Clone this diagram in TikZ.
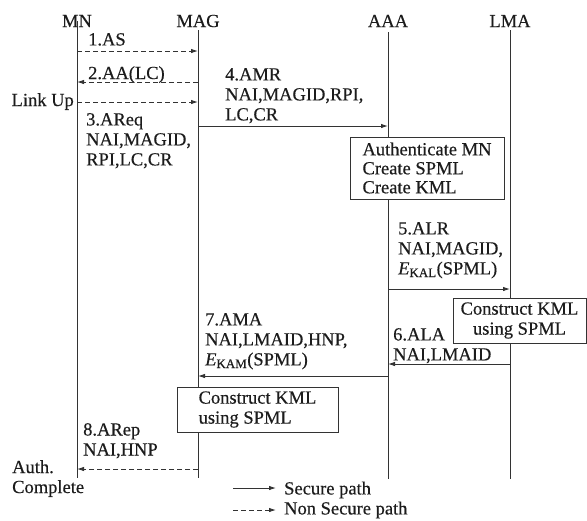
\documentclass[tikz,border=0pt]{standalone}
\usepackage{fontspec}
\setmainfont{Liberation Serif}[FakeBold=0.35]
\usetikzlibrary{arrows.meta,positioning}
\definecolor{ink}{HTML}{1C1C1C}
\definecolor{wire}{HTML}{333333}

\begin{document}
\begin{tikzpicture}[
  x=1pt, y=-1pt,
  >={Latex[length=7pt,width=4.5pt]},
  font=\fontsize{18.5}{20}\selectfont,
  actor/.style={inner sep=0pt, text=ink},
  life/.style={draw=wire, line width=0.9pt},
  sec/.style={->, draw=wire, line width=0.9pt},
  nsec/.style={->, draw=wire, line width=0.9pt, dash pattern=on 5pt off 3pt},
  msg/.style={inner sep=0pt, align=left, anchor=north west, text=ink},
  proc/.style={draw=wire, line width=0.9pt, fill=white, inner sep=0pt, text=ink},
]
\path[fill=white, use as bounding box] (0,0) rectangle (587,520);

% ============================================================ ENTITIES
\node[actor] (MN)  at (77,21)  {MN};
\node[actor] (MAG) at (198,21) {MAG};
\node[actor] (AAA) at (388,21) {AAA};
\node[actor] (LMA) at (510,21) {LMA};

\coordinate (MNend)  at (77,478);
\coordinate (MAGend) at (198,478);
\coordinate (AAAend) at (388,479);
\coordinate (LMAend) at (510,479);

\draw[life] (MN.center) -- (MNend);
\draw[life, shorten <=3pt] (MAG.south) -- (MAGend);
\draw[life, shorten <=5pt] (AAA.south) -- (AAAend);
\draw[life, shorten <=3pt] (LMA.south) -- (LMAend);

% ============================================================ ACCESS (MN <-> MAG)
\node[msg] (m1) at (88,33) {1.AS};
\draw[nsec] (MN |- 0,51) -- (MAG |- 0,51);

\node[msg] (m2) at (88,66) {2.AA(LC)};
\draw[nsec] (MAG |- 0,82) -- (MN |- 0,82);

\node[msg, anchor=north east] (lnk) at (74,93) {Link Up};
\draw[nsec] (MN |- 0,102) -- (MAG |- 0,102);

\node[msg] (m3) at (86,113) {3.AReq\\NAI,MAGID,\\RPI,LC,CR};

% ============================================================ MAG -> AAA
\node[msg] (m4) at (225,68) {4.AMR\\NAI,MAGID,RPI,\\LC,CR};
\draw[sec] (MAG |- 0,126) -- (AAA |- 0,126);

\node[proc, align=left, minimum width=154, minimum height=62,
      font=\fontsize{18.5}{19}\selectfont] (auth) at (427,168)
  {Authenticate MN\\Create SPML\\Create KML};

% ============================================================ AAA <-> LMA
\node[msg] (m5) at (398,222) {5.ALR\\NAI,MAGID,\\\textit{E}\textsubscript{KAL}(SPML)};
\draw[sec] (AAA |- 0,289) -- (LMA |- 0,289);

\node[proc, align=center, minimum width=133, minimum height=45] (kmlL) at (519.5,320.5)
  {Construct KML\\using SPML};

\node[msg] (m6) at (393,328) {6.ALA\\NAI,LMAID};
\draw[sec] (LMA |- 0,364) -- (AAA |- 0,364);

% ============================================================ AAA -> MAG -> MN
\node[msg] (m7) at (205,313) {7.AMA\\NAI,LMAID,HNP,\\\textit{E}\textsubscript{KAM}(SPML)};
\draw[sec] (AAA |- 0,376) -- (MAG |- 0,376);

\node[proc, align=left, minimum width=161, minimum height=45] (kmlM) at (257.5,409.5)
  {Construct KML\\using SPML};

\node[msg] (m8) at (83,423) {8.ARep\\NAI,HNP};
\draw[nsec] (MAG |- 0,469) -- (MN |- 0,469);

\node[msg] (done) at (12,460) {Auth.\\Complete};

% ============================================================ LEGEND
\node[msg, anchor=west] (legS) at (284,490) {Secure path};
\node[msg, anchor=west] (legN) at (284,510) {Non Secure path};
\coordinate (legSs) at (233,488);
\coordinate (legNs) at (233,510);
\draw[sec, shorten >=8pt] (legSs) -- (legS.west |- legSs);
\draw[nsec, shorten >=8pt] (legNs) -- (legN.west |- legNs);

\end{tikzpicture}
\end{document}
